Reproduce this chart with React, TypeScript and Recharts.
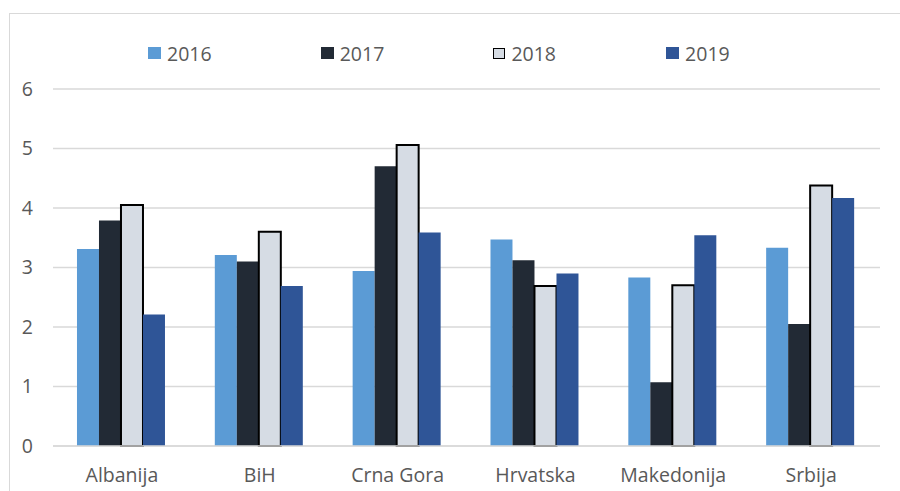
import React from "react";
import { BarChart, Bar, XAxis, YAxis, CartesianGrid } from "recharts";

const countries = ["Albanija", "BiH", "Crna Gora", "Hrvatska", "Makedonija", "Srbija"];
const v2016 = [3.31, 3.21, 2.94, 3.47, 2.83, 3.33];
const v2017 = [3.79, 3.1, 4.7, 3.12, 1.07, 2.05];
const v2018 = [4.05, 3.6, 5.06, 2.69, 2.7, 4.38];
const v2019 = [2.21, 2.69, 3.59, 2.9, 3.54, 4.17];
const yTicks = [0, 1, 2, 3, 4, 5, 6];

const series = [
  { key: "y2016", name: "2016", fill: "#5B9BD5", stroke: "none" },
  { key: "y2017", name: "2017", fill: "#222A35", stroke: "none" },
  { key: "y2018", name: "2018", fill: "#D6DCE4", stroke: "#000000" },
  { key: "y2019", name: "2019", fill: "#2F5597", stroke: "none" },
];

const data = countries.map((c, i) => ({
  country: c,
  y2016: v2016[i],
  y2017: v2017[i],
  y2018: v2018[i],
  y2019: v2019[i],
}));

const FONT = "'Open Sans', sans-serif";
const TEXT = "#595959";

export default function App() {
  return (
    <div
      style={{
        position: "absolute",
        left: 0,
        top: 0,
        width: 900,
        height: 491,
        overflow: "hidden",
        background: "#fff",
        fontFamily: FONT,
      }}
    >
      {/* chart frame, clipped on the right and bottom */}
      <div
        style={{
          position: "absolute",
          left: 9,
          top: 13,
          width: 1000,
          height: 600,
          border: "1px solid #d9d9d9",
        }}
      />
      <div style={{ position: "absolute", left: 0, top: 0 }}>
        <BarChart
          width={900}
          height={491}
          data={data}
          margin={{ top: 89, right: 20, left: 0, bottom: 0 }}
          barGap={0}
          barCategoryGap="17.4%"
        >
          <CartesianGrid vertical={false} stroke="#d9d9d9" strokeWidth={1.5} />
          <XAxis
            dataKey="country"
            height={45}
            tickLine={false}
            axisLine={{ stroke: "#d9d9d9", strokeWidth: 1.5 }}
            tickSize={0}
            tickMargin={22}
            tick={{ fill: TEXT, fontSize: 19.5, fontFamily: FONT }}
          />
          <YAxis
            width={53}
            domain={[0, 6]}
            ticks={yTicks}
            tickLine={false}
            axisLine={false}
            tickSize={0}
            tickMargin={20}
            tick={{ fill: TEXT, fontSize: 19.5, fontFamily: FONT }}
          />
          {series.map((s) => (
            <Bar
              key={s.key}
              dataKey={s.key}
              name={s.name}
              fill={s.fill}
              stroke={s.stroke}
              strokeWidth={s.stroke === "none" ? 0 : 2}
              isAnimationActive={false}
            />
          ))}
        </BarChart>
      </div>
      {/* legend */}
      {series.map((s, i) => (
        <div
          key={s.key}
          style={{
            position: "absolute",
            left: 148 + i * 172.7,
            top: 40,
            height: 26,
            display: "flex",
            alignItems: "center",
            gap: 6,
            color: TEXT,
            fontSize: 19.5,
          }}
        >
          <span
            style={{
              width: s.stroke === "none" ? 13 : 10,
              height: s.stroke === "none" ? 12 : 9,
              background: s.fill,
              border: s.stroke === "none" ? "none" : "1.5px solid #000",
              display: "inline-block",
            }}
          />
          <span>{s.name}</span>
        </div>
      ))}
    </div>
  );
}
